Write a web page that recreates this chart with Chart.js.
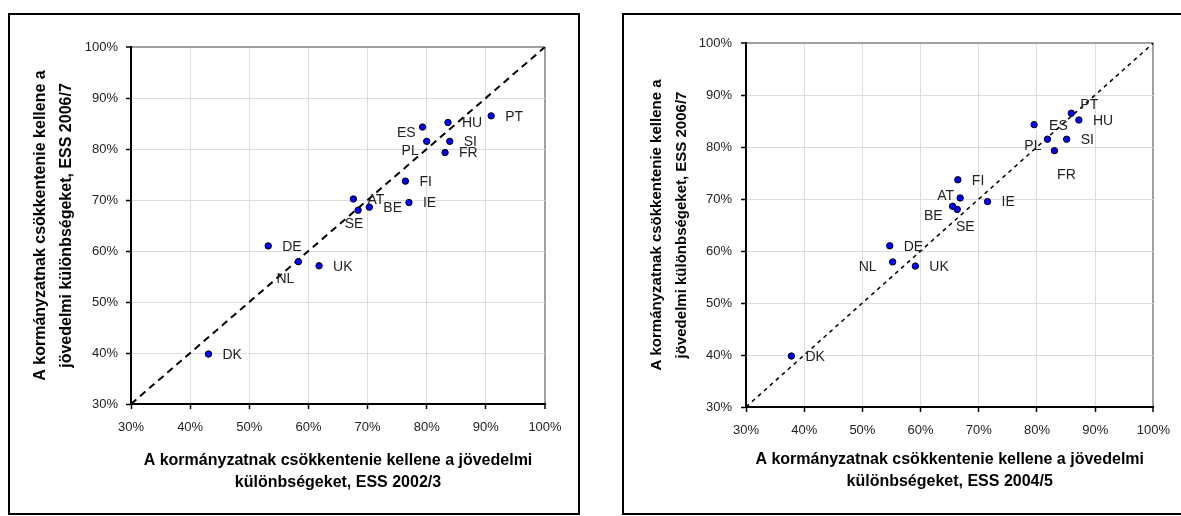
<!DOCTYPE html>
<html>
<head>
<meta charset="utf-8">
<script src="https://cdn.jsdelivr.net/npm/chart.js@4.4.1/dist/chart.umd.min.js"></script>
<style>
html, body { margin: 0; padding: 0; background: #fff; overflow: hidden; }
.box { position: absolute; box-sizing: border-box; border: 2px solid #000; background: #fff; }
#box1 { left: 8px; top: 13px; width: 572px; height: 502px; }
#box2 { left: 622px; top: 13px; width: 600px; height: 502px; }
canvas { position: absolute; }
#chart1 { left: 9px; top: 14px; }
#chart2 { left: 623px; top: 14px; }
</style>
</head>
<body>
<div class="box" id="box1"></div>
<div class="box" id="box2"></div>
<canvas id="chart1" width="570" height="500"></canvas>
<canvas id="chart2" width="558" height="500"></canvas>
<script>
const countries = ['PT', 'HU', 'ES', 'PL', 'SI', 'FR', 'FI', 'IE', 'AT', 'SE', 'BE', 'DE', 'NL', 'UK', 'DK'];
const ess2002 = [90.9, 83.6, 79.3, 80.0, 83.9, 83.1, 76.4, 77.0, 67.6, 68.4, 70.3, 53.2, 58.3, 61.8, 43.1];
const ess2004 = [85.9, 87.2, 79.5, 81.8, 85.1, 83.0, 66.4, 71.5, 66.8, 66.3, 65.5, 54.7, 55.2, 59.1, 37.8];
const ess2006 = [86.5, 85.2, 84.3, 81.5, 81.5, 79.3, 73.7, 69.5, 70.2, 68.0, 68.6, 61.0, 57.9, 57.1, 39.8];
const tickValues = [30, 40, 50, 60, 70, 80, 90, 100];
const diagonal = [30, 100];

const yTitle = ['A kormányzatnak csökkentenie kellene a', 'jövedelmi különbségeket, ESS 2006/7'];
const family = '"Liberation Sans", Arial, sans-serif';

// label placement next to each point: [dx, dy, align]
const offsets1 = { ES: [-7, 6, 'right'], PL: [-8, 10, 'right'], SE: [-4, 14, 'center'], NL: [-13, 17, 'center'] };
const offsets2 = { PT: [9, -8, 'left'], PL: [-6, 7, 'right'], FR: [12, 25, 'center'], AT: [-6, -2, 'right'],
                   BE: [-10, 10, 'right'], SE: [8, 18, 'center'], NL: [-16, 5, 'right'], ES: [15, 2, 'left'] };

const pointLabels = {
    id: 'pointLabels',
    afterDatasetsDraw(chart, args, opts) {
        const ctx = chart.ctx;
        const meta = chart.getDatasetMeta(0);
        ctx.save();
        ctx.font = '14px ' + family;
        ctx.fillStyle = '#222';
        ctx.textBaseline = 'middle';
        meta.data.forEach((pt, i) => {
            const name = countries[i];
            const o = opts.offsets[name] || [14, 1, 'left'];
            ctx.textAlign = o[2];
            ctx.fillText(name, pt.x + o[0], pt.y + o[1]);
        });
        ctx.restore();
    }
};

function gridColor(c) {
    return c.tick && c.tick.value === 100 ? '#a0a0a0' : '#dcdcdc';
}
function gridWidth(c) {
    return c.tick && c.tick.value === 100 ? 2 : 1;
}

function makeChart(id, xValues, xTitle, cfg) {
    const ctx = document.getElementById(id).getContext('2d');
    return new Chart(ctx, {
        type: 'scatter',
        data: {
            datasets: [{
                data: xValues.map((x, i) => ({ x: x, y: ess2006[i] })),
                pointRadius: 3.2,
                pointBackgroundColor: '#0000ff',
                pointBorderColor: '#000',
                pointBorderWidth: 1
            }, {
                type: 'line',
                data: diagonal.map(v => ({ x: v, y: v })),
                borderColor: '#000',
                borderWidth: cfg.dashWidth,
                borderDash: cfg.dash,
                pointRadius: 0,
                fill: false
            }]
        },
        options: {
            responsive: false,
            animation: false,
            layout: { padding: { top: cfg.padTop, right: cfg.padRight, left: 0, bottom: 0 } },
            scales: {
                x: {
                    type: 'linear',
                    min: 30,
                    max: 100,
                    afterBuildTicks: s => { s.ticks = tickValues.map(v => ({ value: v })); },
                    afterFit: s => { s.height = cfg.xHeight; },
                    ticks: { callback: v => v + '%', font: { size: 13, family: family }, color: '#222', padding: 11, maxRotation: 0 },
                    grid: { color: gridColor, lineWidth: gridWidth, tickColor: '#000', tickLength: 5, tickWidth: 1.5 },
                    border: { color: '#000', width: 2 },
                    title: {
                        display: true,
                        text: xTitle,
                        color: '#000',
                        font: { size: 16, weight: 'bold', family: family, lineHeight: 1.375 },
                        padding: { top: 0, bottom: cfg.xTitlePad }
                    }
                },
                y: {
                    type: 'linear',
                    min: 30,
                    max: 100,
                    afterBuildTicks: s => { s.ticks = tickValues.map(v => ({ value: v })); },
                    afterFit: s => { s.width = cfg.yWidth; },
                    ticks: { callback: v => v + '%', font: { size: 13, family: family }, color: '#222', padding: cfg.yTickPad },
                    grid: { color: gridColor, lineWidth: gridWidth, tickColor: '#000', tickLength: 5, tickWidth: 1.5 },
                    border: { color: '#000', width: 2 },
                    title: {
                        display: true,
                        text: yTitle,
                        color: '#000',
                        font: { size: cfg.yTitleSize, weight: 'bold', family: family, lineHeight: cfg.yTitleLh },
                        padding: { top: cfg.yTitlePad, bottom: 0 }
                    }
                }
            },
            plugins: {
                legend: { display: false },
                tooltip: { enabled: false },
                pointLabels: { offsets: cfg.offsets }
            }
        },
        plugins: [pointLabels]
    });
}

makeChart('chart1', ess2002,
    ['A kormányzatnak csökkentenie kellene a jövedelmi', 'különbségeket, ESS 2002/3'],
    { padTop: 33, padRight: 34, xHeight: 110, yWidth: 122, xTitlePad: 20, yTitlePad: 19,
      yTitleSize: 16, yTitleLh: 1.625, yTickPad: 8, dash: [7, 5], dashWidth: 2, offsets: offsets1 });

makeChart('chart2', ess2004,
    ['A kormányzatnak csökkentenie kellene a jövedelmi', 'különbségeket, ESS 2004/5'],
    { padTop: 29, padRight: 22, xHeight: 107, yWidth: 123, xTitlePad: 21, yTitlePad: 21.5,
      yTitleSize: 15, yTitleLh: 1.67, yTickPad: 9, dash: [4, 4], dashWidth: 1.5, offsets: offsets2 });
</script>
</body>
</html>
